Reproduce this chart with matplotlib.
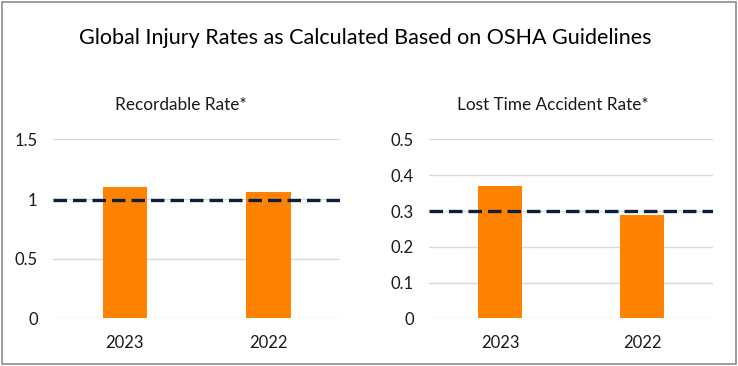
import matplotlib
matplotlib.use("Agg")
import matplotlib.pyplot as plt
from matplotlib.patches import Rectangle

plt.rcParams["font.family"] = ["Lato", "DejaVu Sans"]

# ── Data ────────────────────────────────────────────────────────────────
years = ["2023", "2022"]
recordable_rate = [1.10, 1.06]
recordable_target = 0.99
lost_time_rate = [0.37, 0.29]
lost_time_target = 0.30

title = "Global Injury Rates as Calculated Based on OSHA Guidelines"
panel_titles = ["Recordable Rate*", "Lost Time Accident Rate*"]
recordable_ticks = [0, 0.5, 1, 1.5]
recordable_ticklabels = ["0", "0.5", "1", "1.5"]
lost_time_ticks = [0, 0.1, 0.2, 0.3, 0.4, 0.5]
lost_time_ticklabels = ["0", "0.1", "0.2", "0.3", "0.4", "0.5"]

BAR = "#FF8300"
NAVY = "#0D1F3C"
GRID = "#D9D9D9"
TEXT = "#1a1a1a"

fig = plt.figure(figsize=(7.38, 3.66), dpi=100)
fig.patch.set_facecolor("white")

# outer border
fig.add_artist(Rectangle((0.003, 0.005), 0.994, 0.99, transform=fig.transFigure,
                         fill=False, edgecolor="#8c8c8c", linewidth=1.2))

ax1 = fig.add_axes([0.0718, 0.130, 0.389, 0.489])
ax2 = fig.add_axes([0.5817, 0.130, 0.3848, 0.489])

panels = [
    (ax1, recordable_rate, recordable_target, (0, 1.5), recordable_ticks, recordable_ticklabels),
    (ax2, lost_time_rate, lost_time_target, (0, 0.5), lost_time_ticks, lost_time_ticklabels),
]

for ax, values, target, ylim, ticks, ticklabels in panels:
    x = range(len(years))
    ax.bar(x, values, width=0.31, color=BAR, zorder=2)
    ax.axhline(target, color=NAVY, linewidth=2.4, linestyle=(0, (4.05, 1.8)), zorder=3)
    ax.set_xlim(-0.5, len(years) - 0.5)
    ax.set_ylim(*ylim)
    ax.set_yticks(ticks)
    ax.set_yticklabels(ticklabels)
    ax.set_xticks(list(x))
    ax.set_xticklabels(years)
    ax.yaxis.grid(True, color=GRID, linewidth=1.0, zorder=0)
    ax.set_axisbelow(True)
    for s in ax.spines.values():
        s.set_visible(False)
    ax.tick_params(axis="y", length=0, pad=11, labelsize=12, labelcolor=TEXT)
    ax.tick_params(axis="x", length=0, pad=12, labelsize=12, labelcolor=TEXT)

fig.text(0.4946, 0.897, title, ha="center", va="center", fontsize=15.5, color="black")
fig.text(0.2446, 0.713, panel_titles[0], ha="center", va="center", fontsize=12.4, color=TEXT)
fig.text(0.7486, 0.713, panel_titles[1], ha="center", va="center", fontsize=12.4, color=TEXT)

fig.savefig("out.png", dpi=100)
